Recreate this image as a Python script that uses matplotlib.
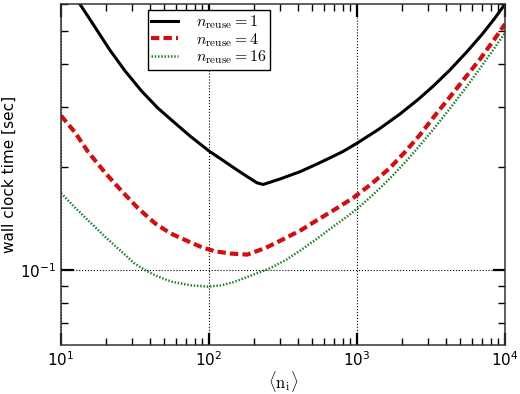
import numpy as np
import matplotlib
matplotlib.use("Agg")
import matplotlib.pyplot as plt
from matplotlib.font_manager import FontProperties
from matplotlib.ticker import NullFormatter

# values (log-log axes)
x_reuse1 = [10, 12, 13.4, 16, 21.4, 27, 35, 45, 59, 75, 100, 125, 150, 180, 211, 232,
            300, 412, 520, 658, 800, 1000, 1400, 1950, 2600, 3270, 4200, 5530, 7000, 8500, 10000]
t_reuse1 = [0.736, 0.647, 0.60, 0.534, 0.44, 0.383, 0.334, 0.298, 0.269, 0.246, 0.223, 0.209, 0.198, 0.188, 0.180, 0.178,
            0.1845, 0.194, 0.203, 0.213, 0.222, 0.235, 0.258, 0.286, 0.316, 0.345, 0.383, 0.435, 0.489, 0.544, 0.60]

x_reuse4 = [10, 12.5, 15.2, 20, 25.8, 33, 43.2, 55, 72, 90, 110, 140, 181, 240, 316, 420,
            537, 700, 940, 1250, 1670, 2100, 2670, 3400, 4250, 5400, 6780, 8300, 10000]
t_reuse4 = [0.283, 0.252, 0.222, 0.192, 0.170, 0.152, 0.137, 0.128, 0.1215, 0.1165, 0.1135, 0.1118, 0.111, 0.116, 0.123, 0.131,
            0.140, 0.150, 0.1625, 0.1786, 0.199, 0.221, 0.249, 0.285, 0.321, 0.366, 0.414, 0.467, 0.524]

x_reuse16 = [10, 12.5, 15.2, 20, 25.8, 31, 37, 45, 56, 75, 98, 120, 145, 190, 258, 330, 412, 530,
             689, 850, 1000, 1300, 1670, 2100, 2670, 3400, 4250, 5400, 6780, 8300, 10000]
t_reuse16 = [0.168, 0.152, 0.140, 0.1248, 0.113, 0.105, 0.100, 0.0958, 0.0925, 0.0903, 0.0895, 0.0902, 0.0921, 0.0962, 0.1013, 0.107, 0.114, 0.123,
             0.134, 0.143, 0.151, 0.167, 0.1855, 0.206, 0.232, 0.263, 0.297, 0.34, 0.389, 0.44, 0.494]

labels = [r"$n_{\rm reuse}=1$", r"$n_{\rm reuse}=4$", r"$n_{\rm reuse}=16$"]

fig = plt.figure(figsize=(5.2, 3.94), dpi=100)
ax = fig.add_axes([61 / 520, 49 / 394, 444 / 520, 341 / 394])

ax.plot(x_reuse1, t_reuse1, color="black", lw=2.2, ls="-", label=labels[0])
ax.plot(x_reuse4, t_reuse4, color="#d01010", lw=3.0, ls=(0, (2, 1)), label=labels[1])
ax.plot(x_reuse16, t_reuse16, color="#23802a", lw=1.8, ls=(0, (0.6, 0.7)), label=labels[2])

ax.set_xscale("log")
ax.set_yscale("log")
ax.set_xlim(10, 1e4)
ax.set_ylim(0.0604, 0.6)
ax.yaxis.set_minor_formatter(NullFormatter())

ax.grid(True, which="major", color="black", ls=":", lw=0.8)
ax.tick_params(which="both", direction="in", top=True, right=True, labelsize=11)
ax.tick_params(which="major", length=9, width=1.6)
ax.tick_params(which="minor", length=5, width=1.0)
for sp in ax.spines.values():
    sp.set_linewidth(1.1)
    sp.set_color("#333333")

ax.set_ylabel("wall clock time [sec]", fontsize=11, labelpad=2)
ax.set_xlabel(r"$\langle \mathrm{n_i} \rangle$", labelpad=0,
              fontproperties=FontProperties(size=12, math_fontfamily="cm"))

leg = ax.legend(loc="upper left", bbox_to_anchor=(0.196, 0.982), borderaxespad=0,
                prop=FontProperties(size=11.5, math_fontfamily="cm"),
                handlelength=1.7, handletextpad=1.1, labelspacing=0.0, borderpad=0.2,
                fancybox=False, framealpha=1, edgecolor="black")
leg.get_frame().set_linewidth(1.0)

fig.savefig("out.png", dpi=100)
